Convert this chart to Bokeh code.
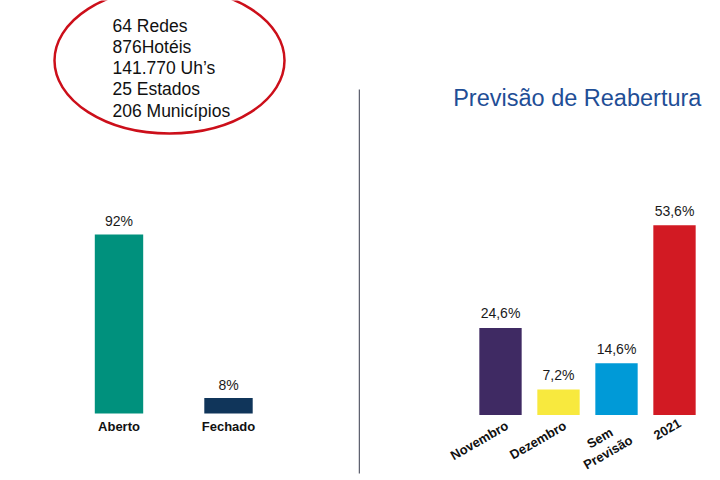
import math
from bokeh.plotting import figure
from bokeh.models import Range1d, ColumnDataSource
from bokeh.layouts import row
from bokeh.core.properties import value
from bokeh.embed import file_html
from bokeh.resources import INLINE

# ---- data ----
status_cats = ["Aberto", "Fechado"]
status_vals = [92, 8]
status_labels = ["92%", "8%"]
status_colors = ["#00917D", "#10355A"]

reab_cats = ["Novembro", "Dezembro", "Sem\nPrevisão", "2021"]
reab_vals = [24.6, 7.2, 14.6, 53.6]
reab_labels = ["24,6%", "7,2%", "14,6%", "53,6%"]
reab_colors = ["#3F2A63", "#F8E93E", "#009AD7", "#D21A23"]

resumo = ["64 Redes", "876Hotéis", "141.770 Uh’s", "25 Estados", "206 Municípios"]
titulo = "Previsão de Reabertura"

FONT = "Liberation Sans"


def base_fig(w, xr, yr):
    p = figure(width=w, height=480, x_range=xr, y_range=yr,
               output_backend="svg", toolbar_location=None,
               x_axis_location=None, y_axis_location=None, min_border=0)
    p.grid.visible = False
    p.outline_line_color = None
    p.background_fill_color = "white"
    p.border_fill_color = "white"
    p.extra_x_ranges = {"px": Range1d(0, w)}
    p.extra_y_ranges = {"py": Range1d(480, 0)}
    return p


# ---- left panel ----
lx = list(range(len(status_cats)))
p1 = base_fig(358,
              Range1d(-118.5 / 109.5, (358 - 118.5) / 109.5),
              Range1d(-(480 - 413) / 1.946, 413 / 1.946))
src1 = ColumnDataSource(dict(x=lx, top=status_vals, cat=status_cats,
                             lab=status_labels, color=status_colors))
p1.vbar(x="x", top="top", bottom=0, width=0.442, fill_color="color",
        line_color=None, source=src1)
p1.text(x="x", y="top", text="lab", source=src1, text_align="center",
        text_baseline="alphabetic", y_offset=-13,
        text_font=value(FONT), text_font_size="14px", text_color="#1a1a1a")
p1.text(x="x", y=0, text="cat", source=src1, anchor=value("top_center"),
        text_align="center", y_offset=5, text_font=value(FONT),
        text_font_style="bold", text_font_size="13px", text_color="#111111")

# ellipse with summary
p1.ellipse(x=169, y=60, width=230, height=146, fill_color=None,
           line_color="#CC0F1A", line_width=2.5,
           x_range_name="px", y_range_name="py")
p1.text(x=[112] * len(resumo), y=[25 + 21.25 * i for i in range(len(resumo))],
        text=resumo, text_baseline="alphabetic", text_align="left",
        text_font=value(FONT), text_font_size="17.5px", text_color="#111111",
        x_range_name="px", y_range_name="py")

# ---- right panel ----
rx = list(range(len(reab_cats)))
p2 = base_fig(362,
              Range1d(-142 / 58, (362 - 142) / 58),
              Range1d(-(480 - 414.5) / 3.54, 414.5 / 3.54))
src2 = ColumnDataSource(dict(x=rx, top=reab_vals, cat=reab_cats,
                             lab=reab_labels, color=reab_colors))
p2.vbar(x="x", top="top", bottom=0, width=0.73, fill_color="color",
        line_color=None, source=src2)
p2.text(x="x", y="top", text="lab", source=src2, text_align="center",
        text_baseline="alphabetic", y_offset=-14.5,
        text_font=value(FONT), text_font_size="14px", text_color="#1a1a1a")
p2.text(x="x", y=0, text="cat", source=src2, anchor=value("top_right"),
        text_align="center", angle=math.pi / 6, x_offset=3, y_offset=3,
        text_font=value(FONT), text_font_style="bold", text_font_size="13px",
        text_color="#111111", text_line_height=1.1)

p2.text(x=[94.7], y=[97.3], text=[titulo], text_baseline="alphabetic",
        text_align="left", text_font=value(FONT), text_font_size="23.5px",
        text_color="#1F4E96", x_range_name="px", y_range_name="py")

# separator
p2.line(x=[0.75, 0.75], y=[89, 473], line_color="#5F6270", line_width=1.5,
        x_range_name="px", y_range_name="py")

layout = row(p1, p2)
open("out.html", "w").write(file_html(layout, INLINE))
